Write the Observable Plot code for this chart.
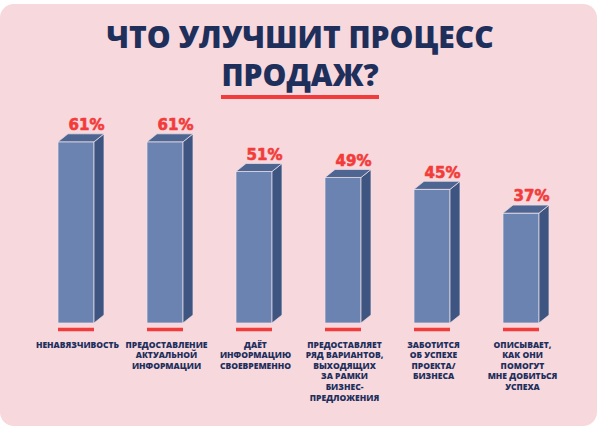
<!DOCTYPE html>
<html><head><meta charset="utf-8">
<script src="https://cdn.jsdelivr.net/npm/d3@7"></script>
<script src="https://cdn.jsdelivr.net/npm/@observablehq/plot@0.6"></script>
<style>
html,body{margin:0;padding:0;background:#fff;width:600px;height:429px;overflow:hidden}
#card{position:absolute;left:0;top:4px;width:597px;height:422px;background:#f7d8dc;border-radius:14px}
#title{position:absolute;left:0;top:18px;width:600px;text-align:center;font-family:"Open Sans",sans-serif;font-weight:800;font-size:30px;color:#1e2f5c;line-height:38px;margin:0}
#title span{padding-bottom:0;border-bottom:4px solid #f23b3b}
#chart{position:absolute;left:0;top:0}
</style></head>
<body>
<div id="card"></div>
<div id="title">ЧТО УЛУЧШИТ ПРОЦЕСС<br><span>ПРОДАЖ?</span></div>
<div id="chart"></div>
<script>
const categories = [
  "НЕНАВЯЗЧИВОСТЬ",
  "ПРЕДОСТАВЛЕНИЕ\nАКТУАЛЬНОЙ\nИНФОРМАЦИИ",
  "ДАЁТ\nИНФОРМАЦИЮ\nСВОЕВРЕМЕННО",
  "ПРЕДОСТАВЛЯЕТ\nРЯД ВАРИАНТОВ,\nВЫХОДЯЩИХ\nЗА РАМКИ\nБИЗНЕС-\nПРЕДЛОЖЕНИЯ",
  "ЗАБОТИТСЯ\nОБ УСПЕХЕ\nПРОЕКТА/\nБИЗНЕСА",
  "ОПИСЫВАЕТ,\nКАК ОНИ\nПОМОГУТ\nМНЕ ДОБИТЬСЯ\nУСПЕХА"
];
const values = [61, 61, 51, 49, 45, 37];
const data = categories.map((c, i) => ({cat: c, value: values[i]}));

const FRONT = "#6a83b0", SIDE = "#3f5581", TOP = "#4e6592", RED = "#f23b3b", NAVY = "#1e2f5c";
const DX = 10, DY = 8;
const FONT = "'Open Sans', sans-serif";

function faces(index, scales, vals, dims, ctx, next) {
  const g = next(index, scales, vals, dims, ctx);
  const bw = scales.x.bandwidth();
  const X = vals.x, Y1 = vals.y1, Y2 = vals.y2;
  const sel = d3.select(g);
  for (const i of index) {
    const x0 = X[i], x1 = X[i] + bw;
    const yt = Math.min(Y1[i], Y2[i]), yb = Math.max(Y1[i], Y2[i]);
    sel.append("polygon")
      .attr("points", [[x1, yt], [x1 + DX, yt - DY], [x1 + DX, yb - DY], [x1, yb]].join(" "))
      .attr("fill", SIDE).attr("stroke", "#efe3ea").attr("stroke-width", 0.7);
    sel.append("polygon")
      .attr("points", [[x0, yt], [x0 + DX, yt - DY], [x1 + DX, yt - DY], [x1, yt]].join(" "))
      .attr("fill", TOP).attr("stroke", "#efe3ea").attr("stroke-width", 0.7);
  }
  return g;
}

const chart = Plot.plot({
  width: 600, height: 429,
  marginTop: 26, marginBottom: 106, marginLeft: 31, marginRight: 34,
  x: {domain: categories, paddingInner: 0.6, paddingOuter: 0.3, axis: null},
  y: {domain: [0, 100], axis: null},
  style: {background: "transparent", overflow: "visible"},
  marks: [
    Plot.barY(data, {x: "cat", y: "value", fill: FRONT, stroke: "#efe3ea", strokeWidth: 0.7, render: faces}),
    Plot.tickY(data, {x: "cat", y: d => 0, dy: 6, stroke: RED, strokeWidth: 3.5}),
    Plot.text(data, {x: "cat", y: "value", text: d => d.value + "%", textAnchor: "end", dx: 28, dy: -17,
      fill: RED, stroke: RED, strokeWidth: 0.6, fontSize: 15, fontWeight: "bold", fontFamily: "'DejaVu Sans', sans-serif"}),
    Plot.text(data, {x: "cat", text: "cat", frameAnchor: "bottom", lineAnchor: "top", dy: 16.5, dx: 1,
      lineHeight: 1.25, fill: NAVY, fontSize: 8.5, fontWeight: 800, fontFamily: FONT})
  ]
});
document.getElementById("chart").append(chart);
</script>
</body></html>
